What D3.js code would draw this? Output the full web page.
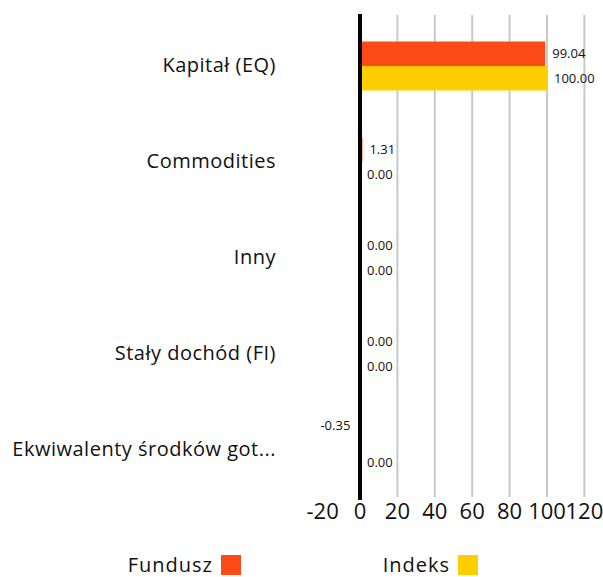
<!DOCTYPE html>
<meta charset="utf-8">
<style>
  body { margin: 0; background: #fff; }
  svg text { font-family: "Open Sans", sans-serif; fill: #111; }
</style>
<svg class="chart"></svg>
<script src="https://d3js.org/d3.v7.min.js"></script>
<script>
  var categories = ["Kapitał (EQ)", "Commodities", "Inny", "Stały dochód (FI)", "Ekwiwalenty środków got..."];
  var fundValues = [99.04, 1.31, 0.00, 0.00, -0.35];
  var indexValues = [100.00, 0.00, 0.00, 0.00, 0.00];
  var seriesNames = ["Fundusz", "Indeks"];
  var xTicks = [-20, 0, 20, 40, 60, 80, 100, 120];

  var colors = ["#fc4a16", "#ffce00"];
  var width = 603, height = 577;

  var svg = d3.select(".chart")
      .attr("width", width)
      .attr("height", height);

  var x = d3.scaleLinear()
      .domain([-20, 120])
      .range([322.6, 584.4]);

  var y = d3.scaleBand()
      .domain(categories)
      .range([18, 498])
      .paddingInner(0)
      .paddingOuter(0);

  var barH = 24.5;

  // grid lines
  svg.append("g")
      .attr("class", "grid")
    .selectAll("line")
      .data(xTicks.filter(function(d) { return d > 0; }))
    .enter().append("line")
      .attr("x1", function(d) { return x(d); })
      .attr("x2", function(d) { return x(d); })
      .attr("y1", 15)
      .attr("y2", 497)
      .attr("stroke", "#c8c8c8")
      .attr("stroke-width", 2);

  var rows = categories.map(function(c, i) {
    return { cat: c, values: [fundValues[i], indexValues[i]] };
  });

  var groups = svg.append("g")
      .attr("class", "bars")
    .selectAll("g")
      .data(rows)
    .enter().append("g")
      .attr("transform", function(d) {
        return "translate(0," + (y(d.cat) + y.bandwidth() / 2 - barH) + ")";
      });

  groups.selectAll("rect")
      .data(function(d) { return d.values; })
    .enter().append("rect")
      .attr("x", function(v) { return x(Math.min(0, v)); })
      .attr("y", function(v, j) { return j * barH; })
      .attr("width", function(v) { return Math.abs(x(v) - x(0)); })
      .attr("height", barH)
      .attr("fill", function(v, j) { return colors[j]; });

  groups.selectAll("text")
      .data(function(d) { return d.values; })
    .enter().append("text")
      .attr("x", function(v) { return v < 0 ? x(v) - 9 : x(v) + 7; })
      .attr("y", function(v, j) { return j * barH + barH / 2 - (v < 0 ? 12 : 0); })
      .attr("dy", "0.35em")
      .attr("text-anchor", function(v) { return v < 0 ? "end" : "start"; })
      .style("font-size", "13px")
      .text(function(v) { return v.toFixed(2); });

  // zero line
  svg.append("line")
      .attr("x1", x(0))
      .attr("x2", x(0))
      .attr("y1", 14)
      .attr("y2", 500)
      .attr("stroke", "#000")
      .attr("stroke-width", 4);

  // category labels
  svg.append("g")
      .attr("class", "category axis")
    .selectAll("text")
      .data(categories)
    .enter().append("text")
      .attr("x", 276)
      .attr("y", function(d) { return y(d) + y.bandwidth() / 2; })
      .attr("dy", "0.3em")
      .attr("text-anchor", "end")
      .style("font-size", "20px")
      .style("letter-spacing", "0.5px")
      .text(function(d) { return d; });

  // x axis labels
  svg.append("g")
      .attr("class", "x axis")
    .selectAll("text")
      .data(xTicks)
    .enter().append("text")
      .attr("x", function(d) { return x(d); })
      .attr("y", 519)
      .attr("text-anchor", "middle")
      .style("font-size", "22px")
      .text(function(d) { return d; });

  // legend
  var legendX = [213, 450];
  var legend = svg.append("g")
      .attr("class", "legend")
    .selectAll("g")
      .data(seriesNames)
    .enter().append("g");

  legend.append("text")
      .attr("x", function(d, i) { return legendX[i]; })
      .attr("y", 572)
      .attr("text-anchor", "end")
      .style("font-size", "20px")
      .style("letter-spacing", "1px")
      .text(function(d) { return d; });

  legend.append("rect")
      .attr("x", function(d, i) { return legendX[i] + 8; })
      .attr("y", 555)
      .attr("width", 20)
      .attr("height", 20)
      .attr("fill", function(d, i) { return colors[i]; });
</script>
